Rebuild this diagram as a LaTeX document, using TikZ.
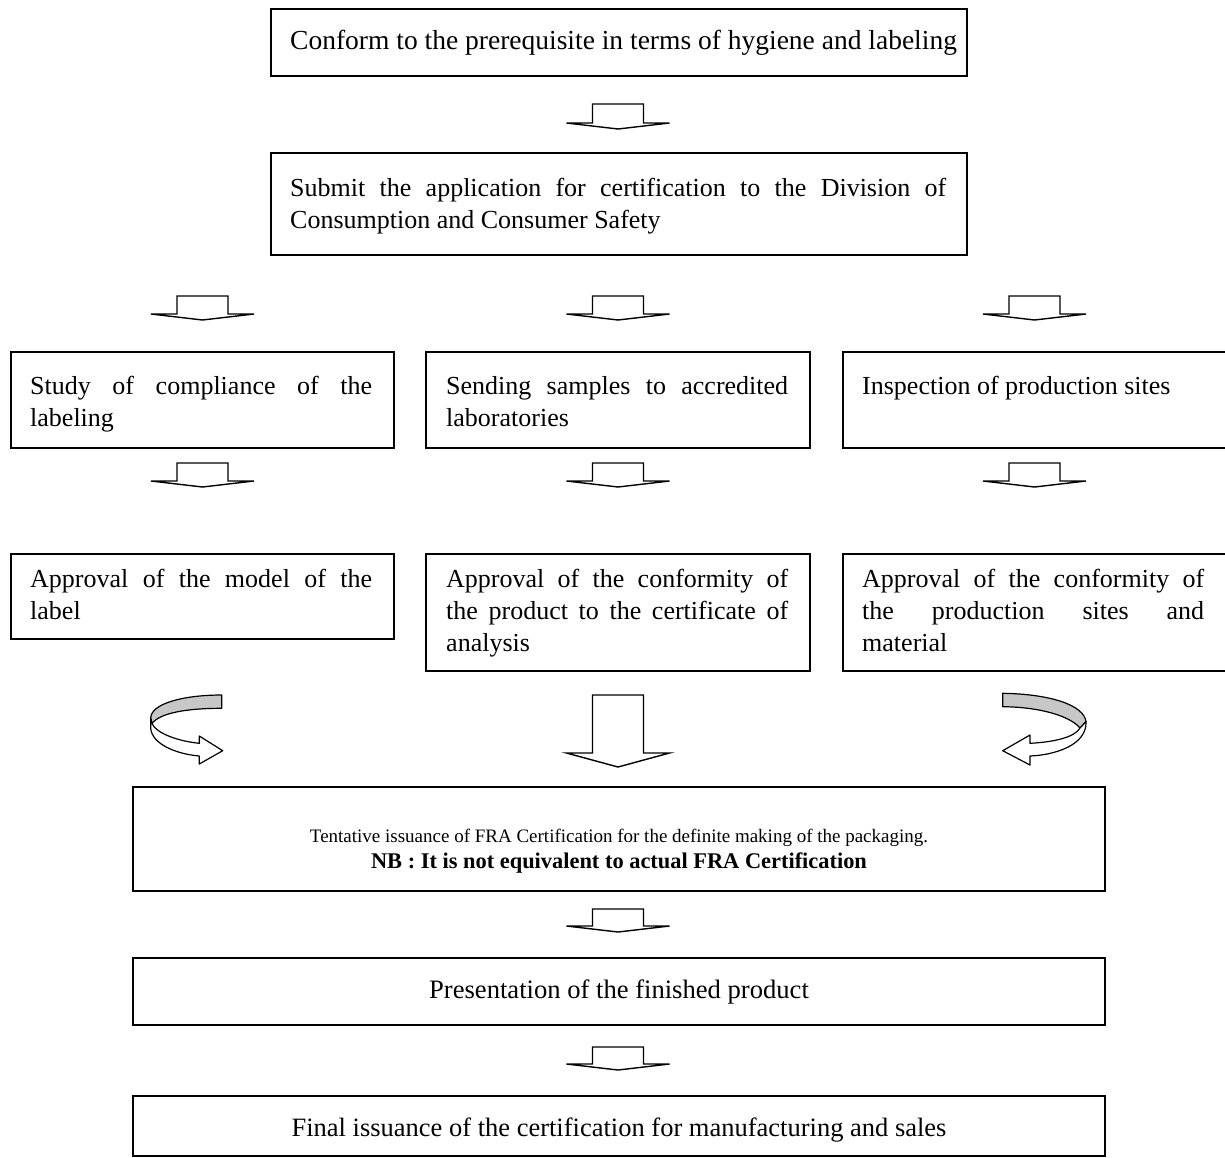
\documentclass[tikz,border=0pt]{standalone}
\usepackage{fontspec}
\setmainfont{Liberation Serif}
\usetikzlibrary{calc}
\definecolor{bandgray}{gray}{0.78}
\hyphenpenalty=10000
\exhyphenpenalty=10000
\tolerance=10000
% strut that fixes the height of a paragraph's first line
\newcommand\lnstart{\rule{0pt}{20pt}}
\begin{document}
\begin{tikzpicture}[x=1pt,y=-1pt,
  box/.style={draw=black,line width=2pt,inner sep=0pt,anchor=north west},
  para/.style={inner sep=0pt,anchor=north west,align=justify,text width=342pt,
    font=\fontsize{26}{32}\selectfont},
  wide/.style={para,text width=656pt},
  oneline/.style={inner sep=0pt,anchor=base,font=\fontsize{26.6}{32}\selectfont},
  arrowline/.style={draw=black,line width=1.4pt,fill=white,line join=miter},
  ribbon/.style={draw=black,line width=1.2pt,line join=round},
  pics/blockdown/.style args={#1/#2}{code={
    \draw[arrowline] (-25.5,0) -- (25.5,0) -- (25.5,#1) -- (51.5,#1)
      -- (0,#1+#2) -- (-51.5,#1) -- (-25.5,#1) -- cycle;}}
]
\useasboundingbox (0,0) rectangle (1225,1157);

% ---- boxes ----
\node[box,minimum width=696pt,minimum height=67pt]  (b1) at (270,8) {};
\node[box,minimum width=696pt,minimum height=102pt] (b2) at (270,152) {};
\node[box,minimum width=383pt,minimum height=96pt]  (r1a) at (10,351) {};
\node[box,minimum width=384pt,minimum height=96pt]  (r1b) at (425,351) {};
\node[box,minimum width=385pt,minimum height=96pt]  (r1c) at (842,351) {};
\node[box,minimum width=383pt,minimum height=85pt]  (r2a) at (10,553) {};
\node[box,minimum width=384pt,minimum height=117pt] (r2b) at (425,553) {};
\node[box,minimum width=385pt,minimum height=117pt] (r2c) at (842,553) {};
\node[box,minimum width=972pt,minimum height=104pt] (b3) at (132,786) {};
\node[box,minimum width=972pt,minimum height=67pt]  (b4) at (132,957) {};
\node[box,minimum width=972pt,minimum height=60pt]  (b5) at (132,1095) {};

% ---- texts ----
\node[oneline,anchor=base west,font=\fontsize{27.5}{32}\selectfont] (t1)
  at ($(b1.north west)+(20,41)$) {Conform to the prerequisite in terms of hygiene and labeling};
\node[wide] (t2) at ($(b2.north west)+(20,24)$)
  {\lnstart Submit the application for certification to the Division of\linebreak
   Consumption and Consumer Safety};
\node[para] (t3) at ($(r1a.north west)+(20,23)$)
  {\lnstart Study of compliance of the\linebreak labeling};
\node[para] (t4) at ($(r1b.north west)+(21,23)$)
  {\lnstart Sending samples to accredited\linebreak laboratories};
\node[para] (t5) at ($(r1c.north west)+(20,23)$)
  {\lnstart Inspection of production sites};
\node[para] (t6) at ($(r2a.north west)+(20,14)$)
  {\lnstart Approval of the model of the\linebreak label};
\node[para] (t7) at ($(r2b.north west)+(21,14)$)
  {\lnstart Approval of the conformity of\linebreak the product to the certificate of\linebreak analysis};
\node[para] (t8) at ($(r2c.north west)+(20,14)$)
  {\lnstart Approval of the conformity of\linebreak the production sites and\linebreak material};
\node[inner sep=0pt,anchor=north,align=center,font=\fontsize{19}{26}\selectfont] (t9)
  at ($(b3.north)+(0,40)$)
  {\rule{0pt}{16pt}Tentative issuance of FRA Certification for the definite making of the packaging.\\
   {\fontsize{22.4}{26}\selectfont\bfseries NB : It is not equivalent to actual FRA Certification}};
\node[oneline] (t10) at ($(b4.north)+(0,41)$) {Presentation of the finished product};
\node[oneline,font=\fontsize{26.5}{32}\selectfont] (t11) at ($(b5.north)+(0,41)$)
  {Final issuance of the certification for manufacturing and sales};

% ---- block arrows between the steps ----
\pic at ($(b1.south)+(-1,27)$) {blockdown=19/6};
\pic at ($(r1a.north)+(0,-55)$) {blockdown=18/6};
\pic at ($(r1b.north)+(0,-55)$) {blockdown=18/6};
\pic at ($(r1c.north)+(-1,-55)$) {blockdown=18/6};
\pic at ($(r1a.south)+(0,14)$) {blockdown=18/6};
\pic at ($(r1b.south)+(0,14)$) {blockdown=18/6};
\pic at ($(r1c.south)+(-1,14)$) {blockdown=18/6};
\pic at ($(b3.north)+(-1,-91)$) {blockdown=58/14};
\pic at ($(b3.south)+(-1,17)$) {blockdown=17/6};
\pic at ($(b4.south)+(-1,21)$) {blockdown=17/6};

% ---- curved arrow from the left column ----
\draw[ribbon,fill=bandgray] (221.7,695) .. controls (182,695) and (151,704) .. (150.7,718)
  -- (152,723.5) .. controls (160,713) and (186,708.3) .. (221.7,708.3) -- cycle;
\draw[ribbon,fill=white] (150.7,718) -- (150.7,728.3)
  .. controls (152,744) and (176,754) .. (199.3,756) -- (199.3,764) -- (222.7,750.7)
  -- (199.3,736) -- (199.3,743.3) .. controls (177,741) and (156,733) .. (152,723.5) -- cycle;

% ---- curved arrow from the right column ----
\draw[ribbon,fill=bandgray] (1002.7,693.3) .. controls (1050,694) and (1084,705) .. (1086,721.7)
  -- (1080,728) .. controls (1070,716) and (1040,707) .. (1002.7,706.7) -- cycle;
\draw[ribbon,fill=white] (1086,721.7) .. controls (1087,745) and (1055,755) .. (1030,756)
  -- (1030,765) -- (1002.7,750.7) -- (1030,735) -- (1030,743.3)
  .. controls (1055,742) and (1075,737) .. (1080,728) -- cycle;
\end{tikzpicture}
\end{document}
